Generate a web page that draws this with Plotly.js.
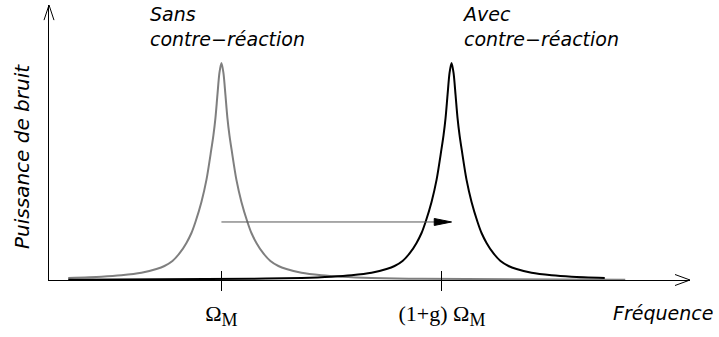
<!DOCTYPE html>
<html>
<head>
<meta charset="utf-8">
<script src="https://cdn.plot.ly/plotly-3.0.1.min.js"></script>
<style>html,body{margin:0;padding:0;background:#fff;}#chart{width:719px;height:337px;}</style>
</head>
<body>
<div id="chart"></div>
<script>
// Frequency (arbitrary units) and noise power (arbitrary units)
const grayX = [0.30, 0.818, 1.13, 1.442, 1.676, 1.801, 1.926, 2.035, 2.144, 2.222, 2.2844, 2.378, 2.456,
               2.5309, 2.5652, 2.5964, 2.6276, 2.6588, 2.69,
               2.7212, 2.7524, 2.7836, 2.8148, 2.8491, 2.924, 3.002, 3.0956, 3.158, 3.236, 3.345, 3.454,
               3.579, 3.704, 3.938, 4.25, 4.562, 5.03, 5.81, 8.99];
const grayY = [0.0074, 0.012, 0.0171, 0.0262, 0.040, 0.0509, 0.0691, 0.0964, 0.135, 0.171, 0.211, 0.284, 0.364,
               0.473, 0.527, 0.589, 0.673, 0.753, 0.789,
               0.753, 0.673, 0.589, 0.527, 0.473, 0.364, 0.284, 0.211, 0.171, 0.135, 0.0964, 0.0691,
               0.0509, 0.040, 0.0262, 0.0171, 0.012, 0.0076, 0.0044, 0.001];
const blackX = [0.30, 3.16, 3.94, 4.408, 4.72, 5.032, 5.266, 5.391, 5.516, 5.625, 5.734, 5.812, 5.8744, 5.968,
                6.046, 6.1209, 6.1552, 6.1864, 6.2176, 6.2488, 6.28,
                6.3112, 6.3424, 6.3736, 6.4048, 6.4391, 6.514, 6.592, 6.6856, 6.748, 6.826, 6.935, 7.044,
                7.169, 7.294, 7.528, 7.84, 8.152, 8.67];
const blackY = [0.0011, 0.0044, 0.0076, 0.012, 0.0171, 0.0262, 0.040, 0.0509, 0.0691, 0.0964, 0.135, 0.171, 0.211, 0.284,
                0.364, 0.473, 0.527, 0.589, 0.673, 0.753, 0.789,
                0.753, 0.673, 0.589, 0.527, 0.473, 0.364, 0.284, 0.211, 0.171, 0.135, 0.0964, 0.0691,
                0.0509, 0.040, 0.0262, 0.0171, 0.012, 0.0074];
const tickPositions = [2.69, 6.13];
const tickLabels = ['Ω<sub><span style="font-size:18px">M</span></sub>',
                    '(1+g) Ω<sub><span style="font-size:18px">M</span></sub>'];
const shiftArrowX = [2.69, 6.28];   // from peak without feedback to peak with feedback
const shiftArrowY = 0.211;
const curveLabels = ['Sans<br>contre−réaction', 'Avec<br>contre−réaction'];
const xAxisLabel = 'Fréquence';
const yAxisLabel = 'Puissance de bruit';

const sansFont = {family: 'DejaVu Sans', size: 19, color: '#000', style: 'italic'};

const traces = [
  {x: grayX, y: grayY, mode: 'lines', line: {color: '#7f7f7f', width: 2, shape: 'spline', smoothing: 0.8},
   hoverinfo: 'skip', showlegend: false},
  {x: blackX, y: blackY, mode: 'lines', line: {color: '#000', width: 2, shape: 'spline', smoothing: 0.8},
   hoverinfo: 'skip', showlegend: false},
  {x: [], y: [], xaxis: 'x2', mode: 'lines', hoverinfo: 'skip', showlegend: false}
];

const headLen = 0.27, headHalf = 0.0127;
const tipX = shiftArrowX[1];

const layout = {
  width: 719, height: 337,
  margin: {l: 49, r: 29, t: 5, b: 57},
  paper_bgcolor: '#fff', plot_bgcolor: '#fff',
  showlegend: false,
  xaxis: {range: [0, 10], showline: true, linecolor: '#000', linewidth: 1, showgrid: false, zeroline: false,
          ticks: 'outside', ticklen: 10, tickwidth: 1, tickcolor: '#000', ticklabelstandoff: 4,
          tickmode: 'array', tickvals: tickPositions, ticktext: tickLabels,
          tickfont: {family: 'Liberation Serif', size: 22, color: '#000'}},
  xaxis2: {range: [0, 10], overlaying: 'x', anchor: 'y', side: 'bottom', showline: false, showgrid: false,
           zeroline: false, ticks: 'inside', ticklen: 9, tickwidth: 1, tickcolor: '#000',
           tickmode: 'array', tickvals: tickPositions, showticklabels: false},
  yaxis: {range: [0, 1], showline: true, linecolor: '#000', linewidth: 1, showgrid: false, zeroline: false,
          ticks: '', showticklabels: false},
  shapes: [
    // x-axis open arrowhead
    {type: 'path', xref: 'paper', yref: 'paper', path: 'M0.9766,0.02 L1,0 L0.9766,-0.02',
     line: {color: '#000', width: 1}},
    // y-axis open arrowhead
    {type: 'path', xref: 'paper', yref: 'paper', path: 'M-0.0078,0.945 L0,1 L0.0078,0.945',
     line: {color: '#000', width: 1}},
    // shift arrow line
    {type: 'line', xref: 'x', yref: 'y', x0: shiftArrowX[0], x1: tipX - headLen * 0.5, y0: shiftArrowY, y1: shiftArrowY,
     line: {color: '#555', width: 1}},
    // shift arrow head
    {type: 'path', xref: 'x', yref: 'y',
     path: `M${tipX - headLen},${shiftArrowY + headHalf} L${tipX},${shiftArrowY} L${tipX - headLen},${shiftArrowY - headHalf} Z`,
     fillcolor: '#000', line: {color: '#000', width: 1}}
  ],
  annotations: [
    {xref: 'paper', yref: 'paper', x: 0.155, y: 0.922, xanchor: 'left', yanchor: 'middle', align: 'left',
     text: curveLabels[0], showarrow: false, font: sansFont},
    {xref: 'paper', yref: 'paper', x: 0.641, y: 0.922, xanchor: 'left', yanchor: 'middle', align: 'left',
     text: curveLabels[1], showarrow: false, font: sansFont},
    {xref: 'paper', yref: 'paper', x: 1.039, y: -0.12, xanchor: 'right', yanchor: 'middle',
     text: xAxisLabel, showarrow: false, font: sansFont},
    {xref: 'paper', yref: 'paper', x: -0.043, y: 0.449, xanchor: 'center', yanchor: 'middle', textangle: -90,
     text: yAxisLabel, showarrow: false, font: {family: 'DejaVu Sans', size: 20, color: '#000', style: 'italic'}}
  ]
};

Plotly.newPlot('chart', traces, layout, {displayModeBar: false, staticPlot: true});
</script>
</body>
</html>
